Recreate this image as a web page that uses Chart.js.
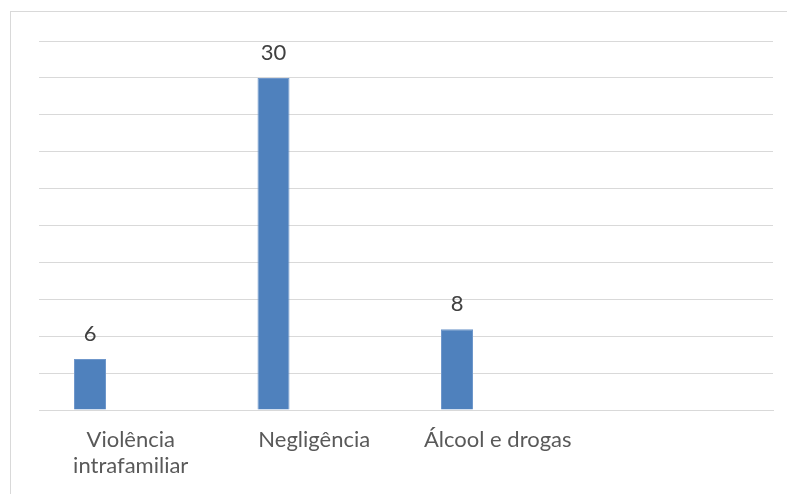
<!DOCTYPE html>
<html>
<head>
<meta charset="utf-8">
<script src="https://cdn.jsdelivr.net/npm/chart.js@4.4.1/dist/chart.umd.min.js"></script>
<style>
  html, body { margin: 0; padding: 0; background: #fff; }
  #wrap { position: relative; width: 787px; height: 494px; }
</style>
</head>
<body>
<div id="wrap"><canvas id="chart" width="787" height="494"></canvas></div>
<script>
// Data
const categories = [['Violência', 'intrafamiliar'], 'Negligência', 'Álcool e drogas', ''];
const barValues = [4.6, 30, 7.3, null];      // bar heights as drawn
const valueLabels = ['6', '30', '8', ''];     // labels as printed above the bars
const emptySeries = [null, null, null, null];

const yMax = 100 / 3;
const gridCount = 10;

// outer frame like the spreadsheet chart border
const framePlugin = {
    id: 'frame',
    beforeDraw(chart) {
        const ctx = chart.ctx;
        ctx.save();
        ctx.fillStyle = '#ffffff';
        ctx.fillRect(0, 0, chart.width, chart.height);
        ctx.strokeStyle = '#d9d9d9';
        ctx.lineWidth = 1;
        ctx.strokeRect(10.5, 11.5, chart.width, chart.height);
        ctx.restore();
    }
};

// value labels above each bar
const labelPlugin = {
    id: 'valueLabels',
    afterDatasetsDraw(chart) {
        const ctx = chart.ctx;
        const meta = chart.getDatasetMeta(0);
        ctx.save();
        ctx.font = '22px Lato';
        ctx.fillStyle = '#404040';
        ctx.textAlign = 'center';
        ctx.textBaseline = 'middle';
        meta.data.forEach((bar, i) => {
            if (barValues[i] == null) return;
            ctx.fillText(valueLabels[i], bar.x, bar.y - 25);
        });
        ctx.restore();
    }
};

new Chart(document.getElementById('chart'), {
    type: 'bar',
    data: {
        labels: categories,
        datasets: [{
            data: barValues,
            backgroundColor: '#4f81bd',
            borderColor: '#6f97cb',
            borderWidth: 1,
            categoryPercentage: 0.888,
            barPercentage: 0.393
        }, {
            data: emptySeries,
            backgroundColor: '#c0504d',
            categoryPercentage: 0.888,
            barPercentage: 0.393
        }]
    },
    options: {
        responsive: false,
        animation: false,
        layout: { padding: { left: 39, right: 14, top: 41, bottom: 0 } },
        plugins: {
            legend: { display: false },
            tooltip: { enabled: false }
        },
        scales: {
            x: {
                grid: { display: false, drawTicks: false },
                border: { color: '#d9d9d9', width: 1 },
                ticks: {
                    color: '#595959',
                    font: { family: 'Lato', size: 22, lineHeight: 1.18 },
                    padding: 17,
                    maxRotation: 0,
                    autoSkip: false
                },
                afterFit(scale) { scale.height = 84; }
            },
            y: {
                min: 0,
                max: yMax,
                afterBuildTicks(scale) {
                    scale.ticks = [];
                    for (let i = 0; i <= gridCount; i++) scale.ticks.push({ value: yMax * i / gridCount });
                },
                ticks: { display: false },
                grid: { color: '#d9d9d9', lineWidth: 1, drawTicks: false },
                border: { display: false }
            }
        }
    },
    plugins: [framePlugin, labelPlugin]
});
</script>
</body>
</html>
